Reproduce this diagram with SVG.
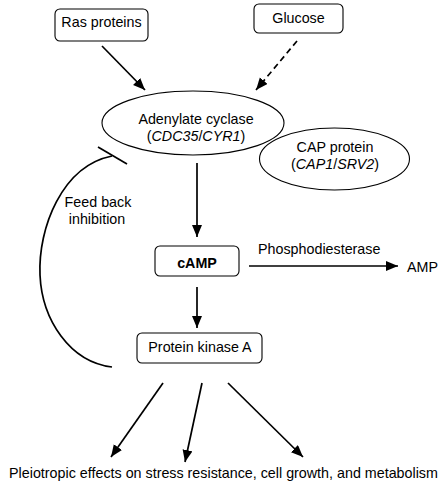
<svg xmlns="http://www.w3.org/2000/svg" width="441" height="490" viewBox="0 0 441 490">
<defs>
<marker id="ah" markerUnits="userSpaceOnUse" markerWidth="13" markerHeight="11" refX="12" refY="5" orient="auto">
<path d="M0,0 L12,5 L0,10 z" fill="#000"/>
</marker>
<style>
text{font-family:"Liberation Sans",Arial,sans-serif;font-size:14.3px;fill:#000}
.c{text-anchor:middle}
.box{fill:#fff;stroke:#000;stroke-width:1.1}
.ar{stroke:#000;stroke-width:1.7;fill:none;marker-end:url(#ah)}
.ln{stroke:#000;stroke-width:1.7;fill:none}
</style>
</defs>
<rect width="441" height="490" fill="#fff"/>
<g id="connectors">
<line class="ar" x1="102" y1="46" x2="145" y2="90"/>
<line class="ar" x1="297" y1="41" x2="256" y2="90" stroke-dasharray="6,4"/>
<line class="ar" x1="197" y1="163" x2="197" y2="237"/>
<line class="ar" x1="249" y1="266" x2="398" y2="266"/>
<line class="ar" x1="197" y1="287" x2="197" y2="328"/>
<line class="ar" x1="163" y1="383" x2="111" y2="457"/>
<line class="ar" x1="202" y1="383" x2="185" y2="462"/>
<line class="ar" x1="228" y1="383" x2="303" y2="457"/>
<path class="ln" d="M112,156 C62,166 38,228 40,275 C42,320 70,362 112,367"/>
<line class="ln" x1="98" y1="147" x2="127" y2="164"/>
</g>
<g id="ras">
<rect class="box" x="55" y="9" width="93" height="32" rx="5"/>
<text class="c" x="101.5" y="27">Ras proteins</text>
</g>
<g id="glucose">
<rect class="box" x="254" y="4" width="89" height="29" rx="5"/>
<text class="c" x="298.5" y="23">Glucose</text>
</g>
<g id="adenylate">
<ellipse class="box" cx="193" cy="123" rx="91" ry="32"/>
<text class="c" x="196" y="124">Adenylate cyclase</text>
<text class="c" x="196" y="141">(<tspan font-style="italic">CDC35</tspan>/<tspan font-style="italic">CYR1</tspan>)</text>
</g>
<g id="cap">
<ellipse class="box" cx="334.5" cy="159" rx="75" ry="31"/>
<text class="c" x="335" y="152">CAP protein</text>
<text class="c" x="335" y="169">(<tspan font-style="italic">CAP1</tspan>/<tspan font-style="italic">SRV2</tspan>)</text>
</g>
<g id="feedback">
<text class="c" x="98" y="207">Feed back</text>
<text class="c" x="97" y="224">inhibition</text>
</g>
<g id="camp">
<rect class="box" x="155" y="246" width="84" height="30" rx="5"/>
<text class="c" x="197" y="268" font-weight="bold">cAMP</text>
</g>
<g id="phospho">
<text x="258" y="254">Phosphodiesterase</text>
</g>
<g id="amp">
<text x="407" y="272">AMP</text>
</g>
<g id="pka">
<rect class="box" x="137" y="333" width="125" height="30" rx="5"/>
<text class="c" x="200" y="352">Protein kinase A</text>
</g>
<g id="effects">
<text class="c" x="223.5" y="478">Pleiotropic effects on stress resistance, cell growth, and metabolism</text>
</g>
</svg>
